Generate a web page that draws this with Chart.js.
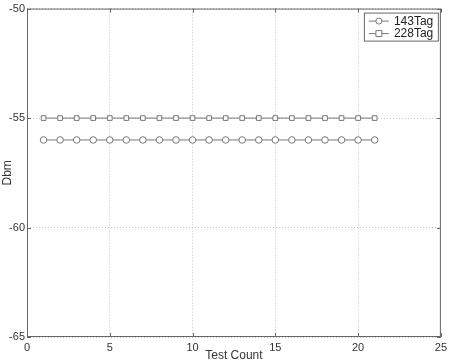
<!DOCTYPE html>
<html lang="en">
<head>
  <meta charset="UTF-8" />
  <title>Dbm vs Test Count</title>
  <style>
    html, body { margin: 0; padding: 0; background: #ffffff; }
    #wrap { width: 451px; height: 363px; }
  </style>
</head>
<body>
<div id="wrap"><canvas id="chart" width="451" height="363"></canvas></div>

<script src="https://cdn.jsdelivr.net/npm/chart.js"></script>
<script>
  // data
  const testCount = [1,2,3,4,5,6,7,8,9,10,11,12,13,14,15,16,17,18,19,20,21];
  const tag143 = [-56,-56,-56,-56,-56,-56,-56,-56,-56,-56,-56,-56,-56,-56,-56,-56,-56,-56,-56,-56,-56];
  const tag228 = [-55,-55,-55,-55,-55,-55,-55,-55,-55,-55,-55,-55,-55,-55,-55,-55,-55,-55,-55,-55,-55];
  const xTicks = [0, 5, 10, 15, 20, 25];
  const yTicks = [-65, -60, -55, -50];

  const toPoints = (ys) => testCount.map((x, i) => ({ x: x, y: ys[i] }));
  const FONT = 'Liberation Sans, Arial, sans-serif';

  // frame, inward ticks and the boxed legend inside the plot
  const matlabLook = {
    id: 'matlabLook',
    afterDraw(chart) {
      const ctx = chart.ctx;
      const a = chart.chartArea;
      const xs = chart.scales.x, ys = chart.scales.y;
      ctx.save();
      ctx.strokeStyle = '#666';
      ctx.lineWidth = 1;
      ctx.strokeRect(a.left + 0.5, a.top + 0.5, a.right - a.left - 1, a.bottom - a.top - 1);
      ctx.beginPath();
      xTicks.forEach(v => {
        const px = Math.round(xs.getPixelForValue(v)) + 0.5;
        ctx.moveTo(px, a.bottom); ctx.lineTo(px, a.bottom - 4);
        ctx.moveTo(px, a.top); ctx.lineTo(px, a.top + 4);
      });
      yTicks.forEach(v => {
        const py = Math.round(ys.getPixelForValue(v)) + 0.5;
        ctx.moveTo(a.left, py); ctx.lineTo(a.left + 4, py);
        ctx.moveTo(a.right, py); ctx.lineTo(a.right - 4, py);
      });
      ctx.stroke();

      // legend
      const lx = a.right - 77, ly = a.top + 4, lw = 74, lh = 28;
      ctx.fillStyle = '#fff';
      ctx.fillRect(lx, ly, lw, lh);
      ctx.strokeStyle = '#666';
      ctx.strokeRect(lx + 0.5, ly + 0.5, lw, lh);
      ctx.font = '12px ' + FONT;
      ctx.textBaseline = 'middle';
      chart.data.datasets.forEach((ds, i) => {
        const cy = ly + 8 + i * 12.5;
        ctx.strokeStyle = '#777';
        ctx.beginPath();
        ctx.moveTo(lx + 5, cy + 0.5); ctx.lineTo(lx + 25, cy + 0.5);
        ctx.stroke();
        ctx.fillStyle = '#fff';
        ctx.beginPath();
        if (ds.pointStyle === 'circle') {
          ctx.arc(lx + 15, cy + 0.5, 3, 0, Math.PI * 2);
        } else {
          ctx.rect(lx + 12, cy - 2.5, 6, 6);
        }
        ctx.fill(); ctx.stroke();
        ctx.fillStyle = '#222';
        ctx.fillText(ds.label, lx + 30, cy + 1);
      });
      ctx.restore();
    }
  };

  new Chart(document.getElementById('chart').getContext('2d'), {
    type: 'line',
    data: {
      datasets: [
        {
          label: '143Tag',
          data: toPoints(tag143),
          borderColor: '#777',
          borderWidth: 1,
          pointStyle: 'circle',
          pointRadius: 3.3,
          pointBorderColor: '#777',
          pointBackgroundColor: '#fff',
          pointBorderWidth: 1
        },
        {
          label: '228Tag',
          data: toPoints(tag228),
          borderColor: '#777',
          borderWidth: 1,
          pointStyle: 'rect',
          pointRadius: 3.3,
          pointBorderColor: '#777',
          pointBackgroundColor: '#fff',
          pointBorderWidth: 1
        }
      ]
    },
    options: {
      responsive: false,
      animation: false,
      layout: { padding: { top: 7, right: 6, left: 0, bottom: 0 } },
      plugins: { legend: { display: false }, tooltip: { enabled: false } },
      scales: {
        x: {
          type: 'linear',
          min: 0, max: 25,
          afterBuildTicks: (s) => { s.ticks = xTicks.map(v => ({ value: v })); },
          afterFit: (s) => { s.height = 26; },
          grid: { color: '#c4c4c4', lineWidth: 1, drawTicks: false },
          border: { display: false, dash: [1, 2] },
          ticks: { padding: 4, color: '#333', font: { family: FONT, size: 11 } },
          title: { display: true, text: 'Test Count', color: '#333', padding: 0, font: { family: FONT, size: 12 } }
        },
        y: {
          min: -65, max: -50,
          afterBuildTicks: (s) => { s.ticks = yTicks.map(v => ({ value: v })); },
          afterFit: (s) => { s.width = 27; },
          grid: { color: '#c4c4c4', lineWidth: 1, drawTicks: false },
          border: { display: false, dash: [1, 2] },
          ticks: { padding: 2, color: '#333', font: { family: FONT, size: 11 } },
          title: { display: true, text: 'Dbm', color: '#333', padding: 0, font: { family: FONT, size: 12 } }
        }
      }
    },
    plugins: [matlabLook]
  });
</script>
</body>
</html>
